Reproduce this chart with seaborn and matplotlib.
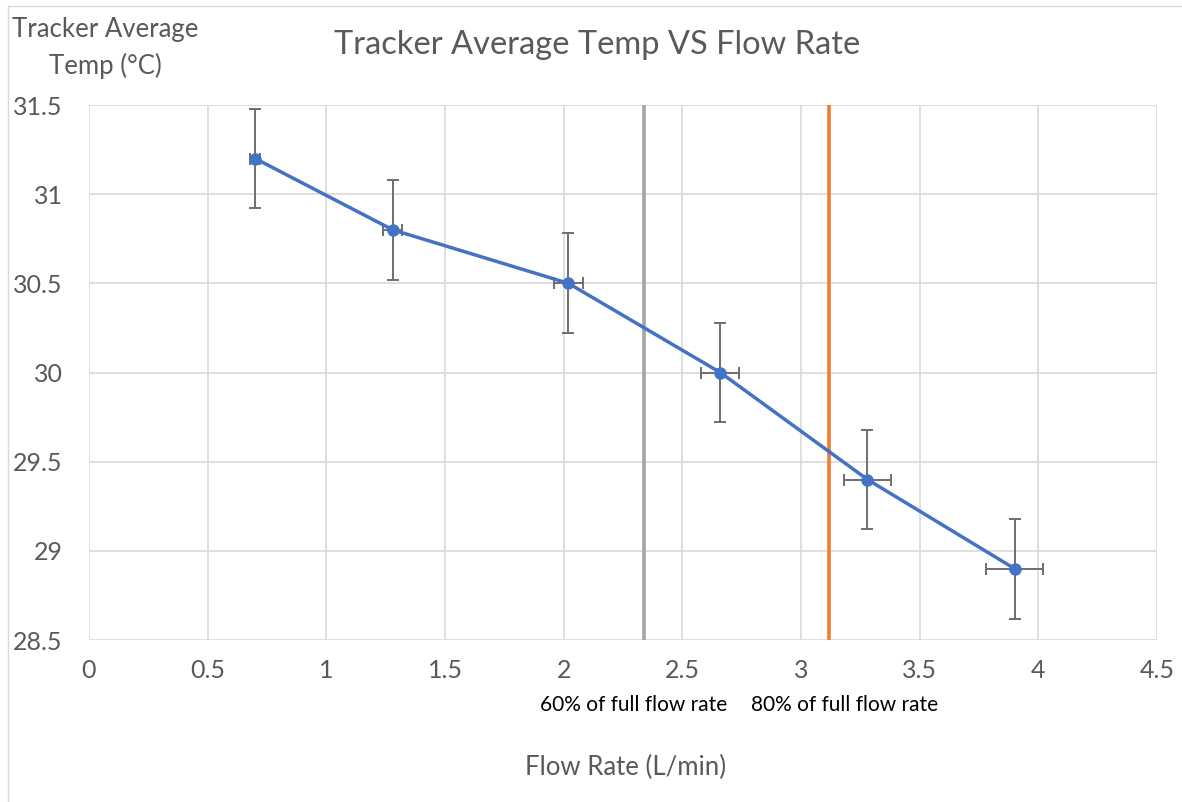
import matplotlib
matplotlib.use("Agg")
import matplotlib.pyplot as plt
import seaborn as sns
import pandas as pd
from matplotlib.lines import Line2D

flow_rate = [0.70, 1.28, 2.02, 2.66, 3.28, 3.90]
avg_temp = [31.2, 30.8, 30.5, 30.0, 29.4, 28.9]
temp_err = [0.28, 0.28, 0.28, 0.28, 0.28, 0.28]
flow_err = [0.02, 0.04, 0.06, 0.08, 0.10, 0.12]
line_60 = 2.34
line_80 = 3.12
x_ticks = [0, 0.5, 1, 1.5, 2, 2.5, 3, 3.5, 4, 4.5]
y_ticks = [28.5, 29, 29.5, 30, 30.5, 31, 31.5]

df = pd.DataFrame({"flow": flow_rate, "temp": avg_temp})

sns.set_style("white")
plt.rcParams['font.family'] = ['Lato', 'DejaVu Sans']

fig = plt.figure(figsize=(11.82, 8.02), dpi=100)
ax = fig.add_axes([89/1182, 1-640/802, (1157-89)/1182, (640-105)/802])

ax.axvline(line_60, color="#A5A5A5", lw=2.6, zorder=2)
ax.axvline(line_80, color="#ED7D31", lw=2.6, zorder=2)

ax.errorbar(flow_rate, avg_temp, yerr=temp_err, xerr=flow_err, fmt="none",
            ecolor="#6E6E6E", elinewidth=1.4, capsize=4, capthick=1.4, zorder=3)
sns.lineplot(data=df, x="flow", y="temp", ax=ax, color="#4472C4", lw=2.5,
             marker="o", markersize=9, markeredgewidth=0, zorder=4)

ax.set_xlim(0, 4.5)
ax.set_ylim(28.5, 31.5)
ax.set_xticks(x_ticks)
ax.set_xticklabels([f"{v:g}" for v in x_ticks])
ax.set_yticks(y_ticks)
ax.set_yticklabels([f"{v:g}" for v in y_ticks])
ax.grid(True, color="#D9D9D9", lw=1.2)
ax.set_axisbelow(True)
for s in ax.spines.values():
    s.set_visible(False)
ax.tick_params(axis="both", length=0, labelsize=18, labelcolor="#595959")
ax.tick_params(axis="x", pad=14)
ax.tick_params(axis="y", pad=19)
ax.set_xlabel("")
ax.set_ylabel("")

fig.text(597/1182, 1-45/802, "Tracker Average Temp VS Flow Rate", ha="center", va="center",
         fontsize=23.5, color="#595959")
fig.text(105/1182, 1-48/802, "Tracker Average\nTemp (°C)", ha="center", va="center",
         fontsize=18.5, color="#595959", linespacing=1.55)
fig.text(626/1182, 1-767/802, "Flow Rate (L/min)", ha="center", va="center",
         fontsize=18.5, color="#595959")
fig.text(634/1182, 1-705/802, "60% of full flow rate", ha="center", va="center",
         fontsize=15, color="black")
fig.text(845/1182, 1-705/802, "80% of full flow rate", ha="center", va="center",
         fontsize=15, color="black")

fig.add_artist(Line2D([8/1182, 8/1182], [0, 1-6/802], transform=fig.transFigure, color="#D9D9D9", lw=1))
fig.add_artist(Line2D([8/1182, 1], [1-6/802, 1-6/802], transform=fig.transFigure, color="#D9D9D9", lw=1))

fig.savefig("out.png", dpi=100)
